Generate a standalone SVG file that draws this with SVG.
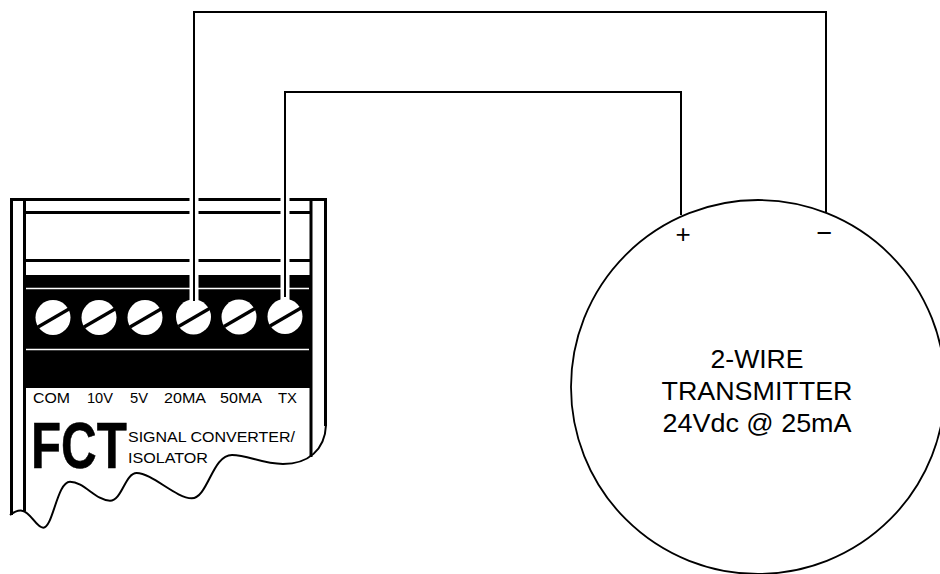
<svg xmlns="http://www.w3.org/2000/svg" width="940" height="574" viewBox="0 0 940 574">
<style>
.ln{fill:none;stroke:#000;stroke-width:3}
.wire{fill:none;stroke:#000;stroke-width:2}
.t{font-family:"Liberation Sans",Arial,sans-serif;fill:#000}
.lab{font-size:15px}
.big{font-size:26px}
.sub{font-size:15.500px}
.slot{stroke:#000;stroke-width:3.200}
</style>
<rect width="940" height="574" fill="#fff"/>
<g id="fct">
<path class="ln" d="M11.500 515V199.500H325.500V426"/>
<path class="ln" d="M24.500 199.500V511M311 199.500V457"/>
<path d="M10 515C14 512 18 510 22 510.700C31 512 36 527.700 43.300 527.700C53 527.700 57 481.700 70 481.700C84 481.700 96 500.700 110 500.700C122 500.700 125 473 136.700 473C152 473 176 498.300 191.700 498.300C208 498.300 212 455 232 455C248 455 262 464 283 464C308 464 325 450 326 425" fill="none" stroke="#000" stroke-width="2"/>
<path class="ln" d="M26 212.500H310M26 260.500H310"/>
<rect x="26" y="275" width="286" height="113" fill="#000"/>
<path d="M26 288.500H309M26 349.500H309" stroke="#fff" stroke-width="1.600"/>
<g id="screws">
<g id="screw-com"><circle cx="53" cy="317.500" r="17.500" fill="#fff"/><path class="slot" d="M38 327L69 309"/></g>
<g id="screw-10v"><circle cx="99" cy="317.500" r="17.500" fill="#fff"/><path class="slot" d="M84 327L115 309"/></g>
<g id="screw-5v"><circle cx="145" cy="317.500" r="17.500" fill="#fff"/><path class="slot" d="M130 327L161 309"/></g>
<g id="screw-20ma"><circle cx="193.500" cy="317" r="17.500" fill="#fff"/><path class="slot" d="M178.500 326.500L209.500 308.500"/></g>
<g id="screw-50ma"><circle cx="239" cy="317" r="17.500" fill="#fff"/><path class="slot" d="M224 326.500L255 308.500"/></g>
<g id="screw-tx"><circle cx="285" cy="316.500" r="17.500" fill="#fff"/><path class="slot" d="M270 326L301 308"/></g>
</g>
<text class="t lab" x="33" y="403" textLength="37" lengthAdjust="spacingAndGlyphs">COM</text>
<text class="t lab" x="87" y="403" textLength="26" lengthAdjust="spacingAndGlyphs">10V</text>
<text class="t lab" x="130" y="403" textLength="18" lengthAdjust="spacingAndGlyphs">5V</text>
<text class="t lab" x="164" y="403" textLength="42" lengthAdjust="spacingAndGlyphs">20MA</text>
<text class="t lab" x="220" y="403" textLength="42" lengthAdjust="spacingAndGlyphs">50MA</text>
<text class="t lab" x="278" y="403" textLength="19" lengthAdjust="spacingAndGlyphs">TX</text>
<text class="t" transform="translate(31 468) scale(.77 1)" font-size="64" font-weight="bold" stroke="#000" stroke-width="0.600">FCT</text>
<text class="t sub" x="128" y="442" textLength="167" lengthAdjust="spacingAndGlyphs">SIGNAL CONVERTER/</text>
<text class="t sub" x="128" y="463" textLength="80" lengthAdjust="spacingAndGlyphs">ISOLATOR</text>
</g>
<g id="transmitter">
<circle cx="758" cy="387" r="187" fill="none" stroke="#000" stroke-width="1.800"/>
<text class="t big" x="710.500" y="367.500" textLength="93" lengthAdjust="spacingAndGlyphs">2-WIRE</text>
<text class="t big" x="661.500" y="400" textLength="191" lengthAdjust="spacingAndGlyphs">TRANSMITTER</text>
<text class="t big" x="662.500" y="431.500" textLength="189" lengthAdjust="spacingAndGlyphs">24Vdc @ 25mA</text>
<text class="t" x="683" y="243" font-size="26" text-anchor="middle">+</text>
<text class="t" x="824.500" y="242" font-size="27" text-anchor="middle">−</text>
</g>
<g id="connectors">
<path d="M194 305V12H826M285 300V92H681" fill="none" stroke="#fff" stroke-width="9"/>
<path class="wire" d="M194 301V12H826V212"/>
<path class="wire" d="M285 297V92H681V215"/>
</g>
</svg>
